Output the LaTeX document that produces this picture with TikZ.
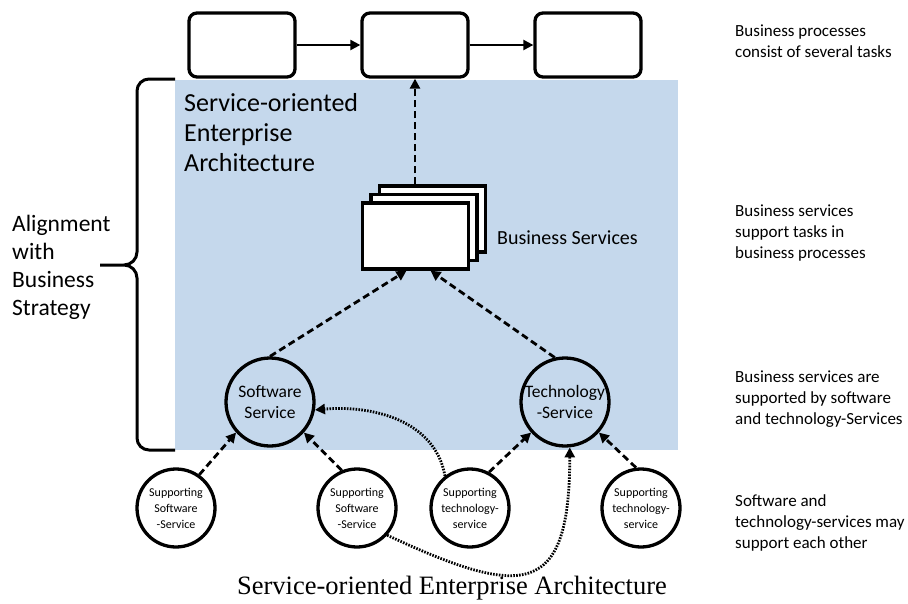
\documentclass[tikz,border=0pt]{standalone}
\usepackage{fontspec}
\setmainfont{Carlito}
\newfontfamily\capfont{Liberation Serif}
\usetikzlibrary{arrows.meta,positioning,calc}
\definecolor{soaBlue}{RGB}{197,216,236}

\begin{document}
\begin{tikzpicture}[x=1pt, y=-1pt, >={Triangle[length=10pt,width=10pt]},
    task/.style={draw, line width=3.3pt, rounded corners=8pt, fill=white,
      minimum width=106pt, minimum height=64pt},
    sheet/.style={draw, line width=3.3pt, fill=white,
      minimum width=106pt, minimum height=66pt},
    svc/.style={draw, circle, line width=3.3pt, fill=soaBlue, minimum size=88pt,
      inner sep=0pt, align=center, font=\fontsize{17.5}{21}\selectfont},
    supp/.style={draw, circle, line width=3.3pt, fill=white, minimum size=78pt,
      inner sep=0pt, align=center, font=\fontsize{12}{16}\selectfont},
    dep/.style={->, line width=2.8pt, dash pattern=on 7pt off 4pt},
    dotlink/.style={->, line width=2.8pt, dash pattern=on 1.6pt off 1.3pt},
    note/.style={anchor=north west, align=left, inner sep=0pt,
      font=\fontsize{17}{21}\selectfont}]
    \useasboundingbox (0,0) rectangle (908,603);
    % --- architecture band ---
    \fill[soaBlue] (175,80) rectangle (678,450);
    % --- brace ---
    \draw[line width=3pt]
      (175,79) -- (149,79) to[out=180, in=90] (137,91) -- (137,252)
      to[out=-90, in=0] (124,265) -- (100,265) -- (124,265)
      to[out=0, in=90] (137,278) -- (137,438) to[out=-90, in=180] (149,450) -- (175,450);
    \node[anchor=west, align=left, inner sep=0pt, font=\fontsize{23.5}{28}\selectfont]
      (align) at (12,267) {Alignment\\with\\Business\\Strategy};
    \node[anchor=north west, align=left, inner sep=0pt, font=\fontsize{26}{30}\selectfont]
      (soa) at (184,93) {Service-oriented\\Enterprise\\Architecture};
    % --- business process: tasks ---
    \node[task] (t1) at (242,45) {};
    \node[task] (t2) at (415,45) {};
    \node[task] (t3) at (588,45) {};
    \draw[->, line width=2.2pt] (t1) -- (t2);
    \draw[->, line width=2.2pt] (t2) -- (t3);
    % --- business services (stacked sheets) ---
    \node[sheet] (bs3) at (432.5,219) {};
    \node[sheet] (bs2) at (424,227.5) {};
    \node[sheet] (bs1) at (415.5,236) {};
    \node[anchor=west, inner sep=0pt, font=\fontsize{20}{24}\selectfont]
      (bslabel) at (497,238) {Business Services};
    \draw[dep] (bs3.north -| t2.south) -- (t2.south);
    % --- software and technology services ---
    \node[svc] (sw) at (270,402) {Software\\Service};
    \node[svc] (tech) at (565,402) {Technology\\-Service};
    \draw[dep] (sw.north) -- ($(bs1.south)+(-9,0)$);
    \draw[dep] (tech.103) -- ($(bs1.south)+(15,0)$);
    % --- supporting services ---
    \node[supp] (s1) at (176,508) {Supporting\\Software\\-Service};
    \node[supp] (s2) at (357,508) {Supporting\\Software\\-Service};
    \node[supp] (s3) at (470,508) {Supporting\\technology-\\service};
    \node[supp] (s4) at (641,508) {Supporting\\technology-\\service};
    \draw[dep] (s1.55) -- (sw.222);
    \draw[dep] (s2.112) -- (sw.318);
    \draw[dep] (s3.62) -- (tech.222);
    \draw[dep] (s4.97) -- (tech.318);
    % --- mutual support (dotted) ---
    \draw[dotlink] (s3.128) to[out=100, in=5] (sw.-10);
    \draw[dotlink] (s2.-42) to[out=-25, in=-90, looseness=1.9] (tech.-84);
    % --- explanations ---
    \node[note] (n1) at (735,25) {Business processes\\consist of several tasks};
    \node[note] (n2) at (735,205) {Business services\\support tasks in\\business processes};
    \node[note] (n3) at (735,371) {Business services are\\supported by software\\and technology-Services};
    \node[note] (n4) at (735,494) {Software and\\technology-services may\\support each other};
    \node[font=\capfont\fontsize{26.5}{30}\selectfont, inner sep=0pt]
      (caption) at (452,588) {Service-oriented Enterprise Architecture};
  \end{tikzpicture}
\end{document}
